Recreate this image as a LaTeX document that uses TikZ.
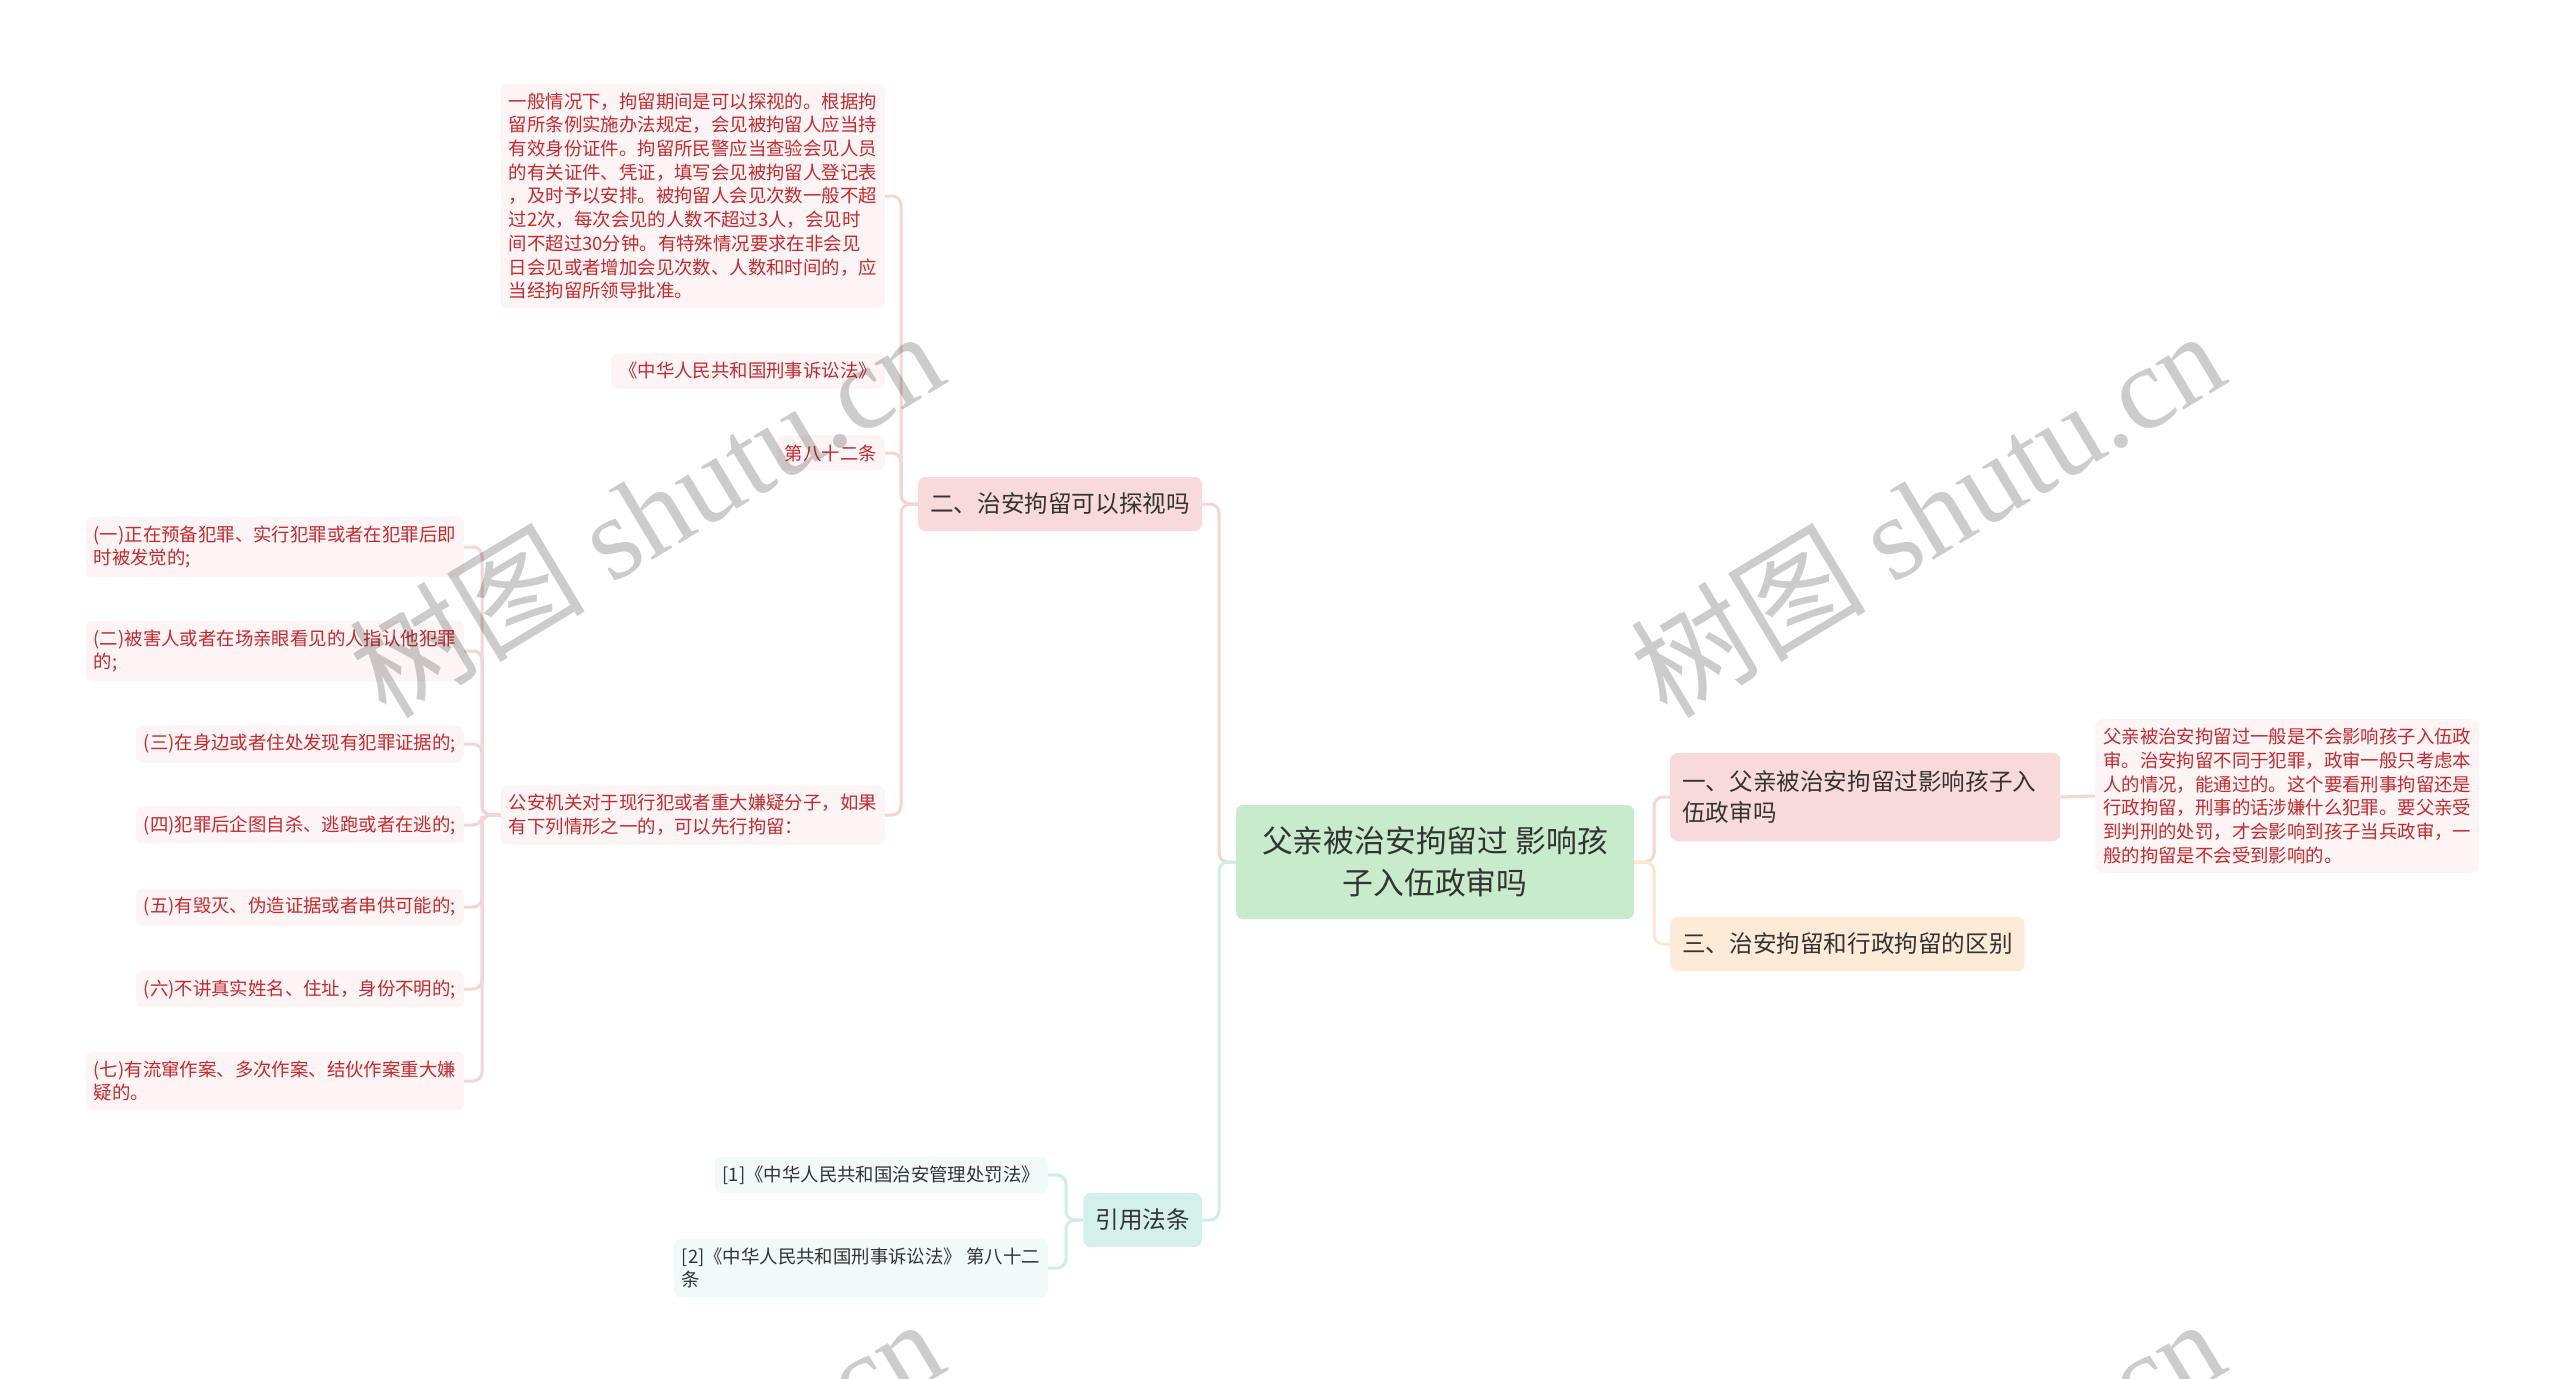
\documentclass[tikz,border=0pt]{standalone}
\usepackage{fontspec}
\setmainfont{Noto Sans CJK SC}
\newfontfamily\wmfont{Liberation Serif}
\definecolor{rootfill}{HTML}{C8EBCB}
\definecolor{pinkfill}{HTML}{F9DADA}
\definecolor{orangefill}{HTML}{FDEBD8}
\definecolor{mintfill}{HTML}{D3F1EA}
\definecolor{leafpink}{HTML}{FDF5F5}
\definecolor{leafmint}{HTML}{F2FAF9}
\definecolor{leafred}{HTML}{C8282D}
\definecolor{darktext}{HTML}{333333}
\definecolor{connpink}{HTML}{F4D4D4}
\definecolor{connmint}{HTML}{CDEEE6}
\definecolor{connorange}{HTML}{FBE6CF}
\tikzset{
  x=1pt, y=-1pt,
  box/.style={rounded corners=7pt, inner ysep=8pt},
  rootbox/.style={box, fill=rootfill, text=darktext, align=center, minimum width=398pt, minimum height=114pt, font=\fontsize{30.8}{42}\selectfont},
  mainbox/.style={box, text=darktext, align=left, inner xsep=12pt, minimum height=54pt, font=\fontsize{23.6}{31}\selectfont},
  leafbox/.style={box, fill=leafpink, text=leafred, align=left, inner xsep=8pt, inner ysep=9pt, font=\fontsize{18.4}{23.7}\selectfont},
  refbox/.style={leafbox, fill=leafmint, text=darktext},
  conn/.style={line width=3pt, rounded corners=9pt},
  wm/.style={rotate=31, text=black, opacity=0.2, font=\fontsize{118}{118}\selectfont},
}
\begin{document}
\begin{tikzpicture}
\useasboundingbox (0,0) rectangle (2560,1379);
\begin{scope}
\clip (0,0) rectangle (2560,1379);
% root
\node[rootbox] (root) at (1435,862) {父亲被治安拘留过 影响孩\\子入伍政审吗};
% main branches
\node[mainbox, fill=pinkfill, anchor=east] (n2) at (1202,504) {二、治安拘留可以探视吗};
\node[mainbox, fill=pinkfill, anchor=west, text width=366pt, minimum height=88pt] (n1) at (1670,797) {一、父亲被治安拘留过影响孩子入\\伍政审吗};
\node[mainbox, fill=orangefill, anchor=west] (n3) at (1670,944) {三、治安拘留和行政拘留的区别};
\node[mainbox, fill=mintfill, anchor=east] (ref) at (1202,1220) {引用法条};
% right leaf
\node[leafbox, anchor=west] (r1) at (2095,796) {父亲被治安拘留过一般是不会影响孩子入伍政\\审。治安拘留不同于犯罪，政审一般只考虑本\\人的情况，能通过的。这个要看刑事拘留还是\\行政拘留，刑事的话涉嫌什么犯罪。要父亲受\\到判刑的处罚，才会影响到孩子当兵政审，一\\般的拘留是不会受到影响的。};
% n2 leaves
\node[leafbox, anchor=east] (t1) at (885,196) {一般情况下，拘留期间是可以探视的。根据拘\\留所条例实施办法规定，会见被拘留人应当持\\有效身份证件。拘留所民警应当查验会见人员\\的有关证件、凭证，填写会见被拘留人登记表\\，及时予以安排。被拘留人会见次数一般不超\\过2次，每次会见的人数不超过3人，会见时\\间不超过30分钟。有特殊情况要求在非会见\\日会见或者增加会见次数、人数和时间的，应\\当经拘留所领导批准。};
\node[leafbox, anchor=east] (law) at (885,371) {《中华人民共和国刑事诉讼法》};
\node[leafbox, anchor=east] (art) at (885,453) {第八十二条};
\node[leafbox, anchor=east] (ga) at (885,815) {公安机关对于现行犯或者重大嫌疑分子，如果\\有下列情形之一的，可以先行拘留：};
% items
\node[leafbox, anchor=east] (i1) at (464,547) {(一)正在预备犯罪、实行犯罪或者在犯罪后即\\时被发觉的;};
\node[leafbox, anchor=east] (i2) at (464,651) {(二)被害人或者在场亲眼看见的人指认他犯罪\\的;};
\node[leafbox, anchor=east] (i3) at (464,744) {(三)在身边或者住处发现有犯罪证据的;};
\node[leafbox, anchor=east] (i4) at (464,825) {(四)犯罪后企图自杀、逃跑或者在逃的;};
\node[leafbox, anchor=east] (i5) at (464,907) {(五)有毁灭、伪造证据或者串供可能的;};
\node[leafbox, anchor=east] (i6) at (464,989) {(六)不讲真实姓名、住址，身份不明的;};
\node[leafbox, anchor=east] (i7) at (464,1081) {(七)有流窜作案、多次作案、结伙作案重大嫌\\疑的。};
% refs
\node[refbox, anchor=east] (f1) at (1048,1175) {[1]《中华人民共和国治安管理处罚法》};
\node[refbox, anchor=east] (f2) at (1048,1268) {[2]《中华人民共和国刑事诉讼法》 第八十二\\条};
% connectors
\coordinate (cl) at (1219,862);
\coordinate (cr) at (1654,862);
\draw[conn, connpink] (root.west) -- (cl) |- (n2.east);
\draw[conn, connmint] (root.west) -- (cl) |- (ref.east);
\draw[conn, connpink] (root.east) -- (cr) |- (n1.west);
\draw[conn, connorange] (root.east) -- (cr) |- (n3.west);
\draw[conn, connpink] (n1.east) -- (r1.west);
\coordinate (c2) at (901,504);
\foreach \t in {t1,art,ga}{\draw[conn, connpink] (n2.west) -- (c2) |- (\t.east);}
\coordinate (cg) at (482,815);
\foreach \t in {i1,i2,i3,i4,i5,i6,i7}{\draw[conn, connpink] (ga.west) -- (cg) |- (\t.east);}
\coordinate (cf) at (1066,1220);
\foreach \t in {f1,f2}{\draw[conn, connmint] (ref.west) -- (cf) |- (\t.east);}
% watermarks
\node[wm] (w1) at (646,512) {树图 \wmfont shutu.cn};
\node[wm] (w2) at (1927,512) {树图 \wmfont shutu.cn};
\node[wm] (w3) at (646,1500) {树图 \wmfont shutu.cn};
\node[wm] (w4) at (1927,1500) {树图 \wmfont shutu.cn};
\end{scope}
\end{tikzpicture}
\end{document}
